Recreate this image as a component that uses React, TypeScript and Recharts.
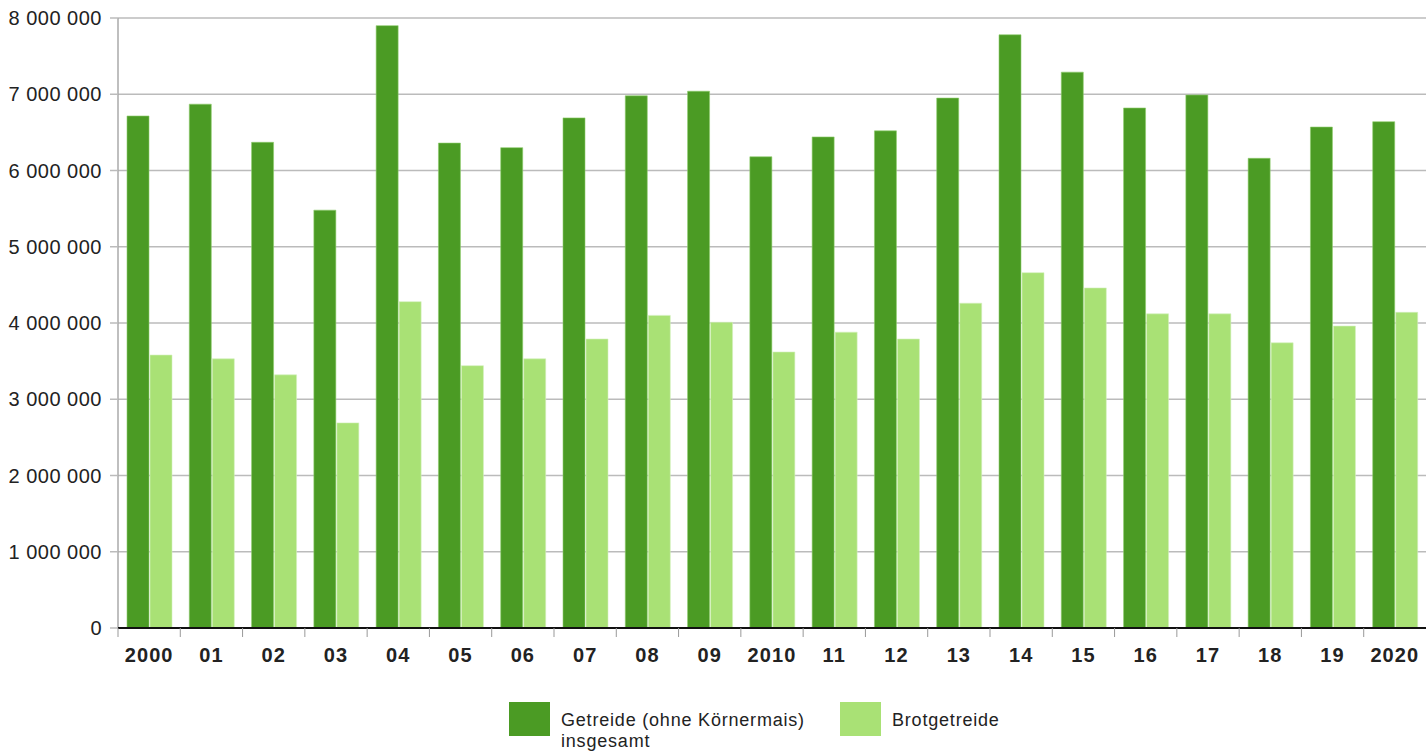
import React from 'react';
import { BarChart, Bar, XAxis, YAxis, CartesianGrid, Legend } from 'recharts';

const years = ['2000', '01', '02', '03', '04', '05', '06', '07', '08', '09', '2010', '11', '12', '13', '14', '15', '16', '17', '18', '19', '2020'];
const getreide = [6715000, 6870000, 6370000, 5480000, 7900000, 6360000, 6300000, 6690000, 6980000, 7040000, 6180000, 6440000, 6520000, 6950000, 7780000, 7290000, 6820000, 6990000, 6160000, 6570000, 6640000];
const brotgetreide = [3580000, 3530000, 3320000, 2690000, 4280000, 3440000, 3530000, 3790000, 4100000, 4010000, 3620000, 3880000, 3790000, 4260000, 4660000, 4460000, 4120000, 4120000, 3740000, 3960000, 4140000];
const yTicks = [0, 1000000, 2000000, 3000000, 4000000, 5000000, 6000000, 7000000, 8000000];
const seriesNames = ['Getreide (ohne Körnermais)\ninsgesamt', 'Brotgetreide'];

const data = years.map((y, i) => ({ year: y, getreide: getreide[i], brot: brotgetreide[i] }));

const W = 1426;
const H = 756;
const Y_AXIS_W = 118;
const PLOT_W = W - Y_AXIS_W;
const DARK = '#4b9b24';
const LIGHT = '#a9e175';
const FONT = '"Liberation Sans", Arial, Helvetica, sans-serif';

const fmt = (v: number) => String(v).replace(/\B(?=(\d{3})+(?!\d))/g, ' ');

const XTick = (props: any) => {
  const { x, y, payload } = props;
  const band = PLOT_W / years.length;
  const bx = x - band / 2;
  return (
    <g>
      <line x1={bx} x2={bx} y1={y} y2={y + 9} stroke="#999" strokeWidth={1} />
      <text x={x} y={y + 34} textAnchor="middle" fontFamily={FONT} fontSize={20} fontWeight="bold" fill="#222" letterSpacing={1.1}>
        {payload.value}
      </text>
    </g>
  );
};

const YTick = (props: any) => {
  const { x, y, payload } = props;
  return (
    <text x={x} y={y} dy="0.355em" textAnchor="end" fontFamily={FONT} fontSize={20} fill="#222" letterSpacing={0.5}>
      {fmt(payload.value)}
    </text>
  );
};

const LegendContent = () => {
  const items = [
    { color: DARK, label: seriesNames[0], left: 509 },
    { color: LIGHT, label: seriesNames[1], left: 840 },
  ];
  return (
    <div style={{ position: 'relative', width: W, height: 68, fontFamily: FONT }}>
      {items.map((it) => (
        <div key={it.label} style={{ position: 'absolute', left: it.left, top: 14 }}>
          <div style={{ position: 'absolute', left: 0, top: 0, width: 41, height: 34, background: it.color }} />
          <div style={{ position: 'absolute', left: 52, top: 8, fontSize: 18, lineHeight: '21px', letterSpacing: '0.8px', color: '#222', whiteSpace: 'pre' }}>
            {it.label}
          </div>
        </div>
      ))}
    </div>
  );
};

export default function App() {
  return (
    <div style={{ position: 'absolute', left: 0, top: 0, width: W, height: H, background: '#fff' }}>
      <BarChart
        width={W}
        height={H}
        data={data}
        margin={{ top: 18, right: 0, bottom: 0, left: 0 }}
        barSize={22}
        barGap={1}
      >
        <CartesianGrid vertical={false} stroke="#bbb" strokeWidth={1.5} />
        <YAxis
          width={Y_AXIS_W}
          domain={[0, 8000000]}
          ticks={yTicks}
          interval={0}
          axisLine={{ stroke: '#aaa', strokeWidth: 1.5 }}
          tickLine={{ stroke: '#bbb', strokeWidth: 1.5 }}
          tickSize={8}
          tickMargin={8}
          tick={<YTick />}
        />
        <XAxis
          dataKey="year"
          height={60}
          interval={0}
          axisLine={{ stroke: '#111', strokeWidth: 2 }}
          tickLine={false}
          tickSize={0}
          tickMargin={0}
          tick={<XTick />}
        />
        <Bar dataKey="getreide" fill={DARK} stroke="#8fcc6c" strokeWidth={0.6} isAnimationActive={false} />
        <Bar dataKey="brot" fill={LIGHT} stroke="#d4f0bd" strokeWidth={0.6} isAnimationActive={false} />
        <Legend verticalAlign="bottom" content={<LegendContent />} wrapperStyle={{ left: 0, width: W }} />
      </BarChart>
    </div>
  );
}
